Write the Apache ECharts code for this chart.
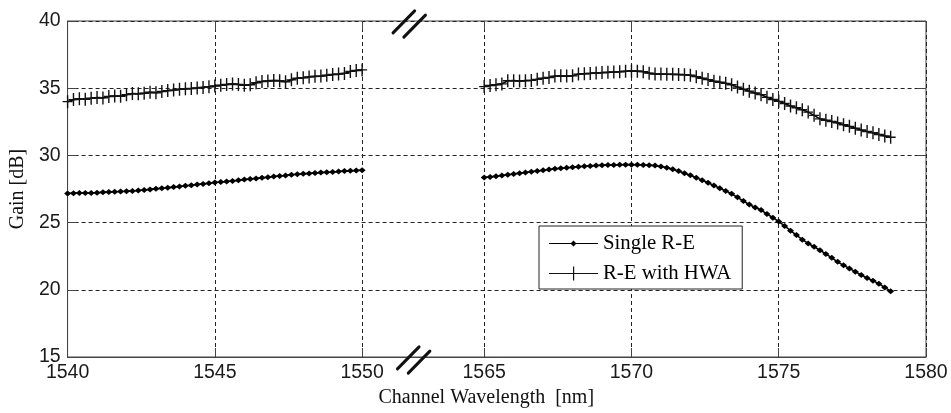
<!DOCTYPE html>
<html><head><meta charset="utf-8">
<script src="https://cdn.jsdelivr.net/npm/echarts@6/dist/echarts.min.js"></script>
<style>html,body{margin:0;padding:0;background:#fff}#c{width:951px;height:413px}</style>
</head><body><div id="c"></div>
<script>
// ---- data ----
const seriesNames = ['Single R-E', 'R-E with HWA'];
const xTickLabels = [1540, 1545, 1550, 1565, 1570, 1575, 1580];
const yMin = 15, yMax = 40, yStep = 5;
const leftStart = 1540, rightStart = 1565, step = 0.2;   // wavelength grid [nm]

const singleLeft = [27.17,27.19,27.20,27.20,27.21,27.22,27.25,27.27,27.29,27.31,
  27.33,27.36,27.39,27.43,27.47,27.51,27.55,27.59,27.64,27.69,
  27.74,27.78,27.83,27.88,27.93,27.98,28.02,28.06,28.10,28.15,
  28.20,28.24,28.29,28.33,28.38,28.43,28.47,28.51,28.56,28.60,
  28.63,28.66,28.69,28.72,28.75,28.77,28.80,28.83,28.85,28.88,28.90];
const singleRight = [28.35,28.40,28.45,28.50,28.56,28.62,28.68,28.73,28.78,28.84,
  28.90,28.95,29.00,29.04,29.08,29.12,29.16,29.19,29.22,29.25,
  29.27,29.28,29.29,29.30,29.31,29.31,29.30,29.29,29.27,29.24,
  29.18,29.09,28.97,28.84,28.68,28.52,28.34,28.16,27.97,27.76,
  27.56,27.36,27.15,26.88,26.60,26.35,26.13,25.93,25.64,25.37,
  25.08,24.75,24.40,24.07,23.73,23.45,23.20,22.94,22.67,22.38,
  22.08,21.82,21.58,21.35,21.10,20.88,20.68,20.45,20.18,19.90];
const hwaLeft = [34.00,34.15,34.22,34.18,34.25,34.30,34.28,34.38,34.42,34.40,
  34.52,34.60,34.58,34.62,34.70,34.66,34.75,34.82,34.86,34.92,
  34.95,34.98,35.02,35.06,35.10,35.16,35.22,35.28,35.32,35.28,
  35.22,35.26,35.40,35.50,35.54,35.57,35.55,35.48,35.62,35.74,
  35.78,35.84,35.88,35.90,35.96,36.02,36.05,36.10,36.25,36.32,36.36];
const hwaRight = [35.12,35.20,35.26,35.32,35.55,35.56,35.54,35.56,35.58,35.66,
  35.74,35.80,35.90,35.92,35.90,35.92,36.05,36.08,36.10,36.13,
  36.16,36.18,36.20,36.22,36.26,36.28,36.27,36.23,36.12,36.06,
  36.05,36.04,36.03,36.02,36.00,35.96,35.86,35.74,35.64,35.52,
  35.44,35.36,35.26,35.08,34.92,34.78,34.64,34.52,34.32,34.16,
  34.02,33.86,33.68,33.55,33.40,33.22,32.98,32.72,32.62,32.52,
  32.42,32.28,32.16,32.02,31.89,31.78,31.68,31.56,31.45,31.35];

// ---- broken x axis: the 1550–1565 span is compressed ----
const BREAK_SHIFT = 10.855;
const toAxis = w => (w >= 1560 ? w - BREAK_SHIFT : w);
const fromAxis = v => (v > 1552 ? v + BREAK_SHIFT : v);
const xTickPos = xTickLabels.map(toAxis);
const breakMarkPos = [1551.6, 1551.75];

function build(left, right) {
  const d = [];
  left.forEach((y, i) => d.push([toAxis(+(leftStart + i * step).toFixed(1)), y]));
  d.push([1552, '-']);
  right.forEach((y, i) => d.push([toAxis(+(rightStart + i * step).toFixed(1)), y]));
  return d;
}

const AX = '#444';
const dashed = { show: true, lineStyle: { color: '#222', width: 1, type: [4, 3] } };
const sans = 'Liberation Sans, Arial, sans-serif';
const serif = 'Liberation Serif, Times New Roman, serif';
const plusPath = 'path://M4.3,0H5.7V13H4.3Z M0,5.8H10V7.2H0Z';

const chart = echarts.init(document.getElementById('c'), null, { renderer: 'canvas' });
chart.setOption({
  animation: false,
  backgroundColor: '#fff',
  grid: { left: 65, right: 25, top: 21, bottom: 54, show: true, borderColor: AX, borderWidth: 1, backgroundColor: 'transparent' },
  legend: {
    left: 539, top: 226, orient: 'vertical',
    backgroundColor: '#fff', borderColor: '#222', borderWidth: 1, borderRadius: 0,
    padding: [7, 11, 5, 10], itemGap: 9, itemWidth: 49, itemHeight: 14, itemTextGap: 7,
    selectedMode: false,
    itemStyle: { borderWidth: 0 },
    textStyle: { fontFamily: serif, fontSize: 20.8, lineHeight: 20, color: '#000' },
    data: [
      { name: seriesNames[0], icon: 'path://M0,6.4H49V7.6H0Z M21.5,7L24.5,4L27.5,7L24.5,10Z' },
      { name: seriesNames[1], icon: 'path://M0,6.4H49V7.6H0Z M24,0H25.2V14H24Z' }
    ]
  },
  xAxis: [{
    type: 'value', min: leftStart, max: toAxis(1580), position: 'bottom',
    name: 'Channel Wavelength  [nm]', nameLocation: 'middle', nameGap: 31,
    nameTextStyle: { fontFamily: serif, fontSize: 20, color: '#111', padding: [0, 21, 0, 0] },
    axisLine: { show: true, lineStyle: { color: AX, width: 1 } },
    axisTick: { show: true, inside: true, length: 9, customValues: xTickPos, lineStyle: { color: AX } },
    axisLabel: { customValues: xTickPos, margin: 6, fontFamily: sans, fontSize: 19.5, color: '#1a1a1a',
      formatter: v => String(Math.round(fromAxis(v))) },
    splitLine: dashed
  }, {
    type: 'value', min: leftStart, max: toAxis(1580), position: 'top',
    axisLine: { show: false },
    axisTick: { show: true, inside: true, length: 9, customValues: xTickPos, lineStyle: { color: AX } },
    axisLabel: { show: false, customValues: xTickPos },
    splitLine: { show: false }
  }],
  yAxis: [{
    type: 'value', min: yMin, max: yMax, interval: yStep, position: 'left',
    name: 'Gain [dB]', nameLocation: 'middle', nameGap: 38,
    nameTextStyle: { fontFamily: serif, fontSize: 20, color: '#111' },
    axisLine: { show: true, lineStyle: { color: AX, width: 1 } },
    axisTick: { show: true, inside: true, length: 9, lineStyle: { color: AX } },
    axisLabel: { margin: 7, fontFamily: sans, fontSize: 19.5, color: '#1a1a1a' },
    splitLine: dashed
  }, {
    type: 'value', min: yMin, max: yMax, interval: yStep, position: 'right',
    axisLine: { show: false },
    axisTick: { show: true, inside: true, length: 9, lineStyle: { color: AX } },
    axisLabel: { show: false },
    splitLine: { show: false }
  }],
  series: [{
    name: seriesNames[0], type: 'line', data: build(singleLeft, singleRight),
    symbol: 'diamond', symbolSize: [7, 6], showAllSymbol: true,
    lineStyle: { color: '#000', width: 1.6 }, itemStyle: { color: '#000', borderWidth: 0 },
    silent: true, z: 3
  }, {
    name: seriesNames[1], type: 'line', data: build(hwaLeft, hwaRight),
    symbol: plusPath, symbolSize: [10, 13], showAllSymbol: true,
    lineStyle: { color: '#000', width: 1.6 }, itemStyle: { color: '#111', borderWidth: 0 },
    silent: true, z: 3
  }]
});

// break marks "//" on the top and bottom borders
function slashes(px, py) {
  const els = [];
  [[-5.4, -2.1], [5.4, 2.1]].forEach(([ox, oy]) => {
    const mx = px + ox, my = py + oy;
    els.push({ type: 'line', shape: { x1: mx - 10.8, y1: my + 11, x2: mx + 10.8, y2: my - 11 },
      style: { stroke: '#111', lineWidth: 3, lineCap: 'round' }, z: 100, silent: true });
  });
  return els;
}
const pTop = chart.convertToPixel({ gridIndex: 0 }, [breakMarkPos[0], yMax]);
const pBot = chart.convertToPixel({ gridIndex: 0 }, [breakMarkPos[1], yMin]);
chart.setOption({ graphic: slashes(pTop[0], pTop[1] + 3).concat(slashes(pBot[0], pBot[1] + 3)) });
</script></body></html>
